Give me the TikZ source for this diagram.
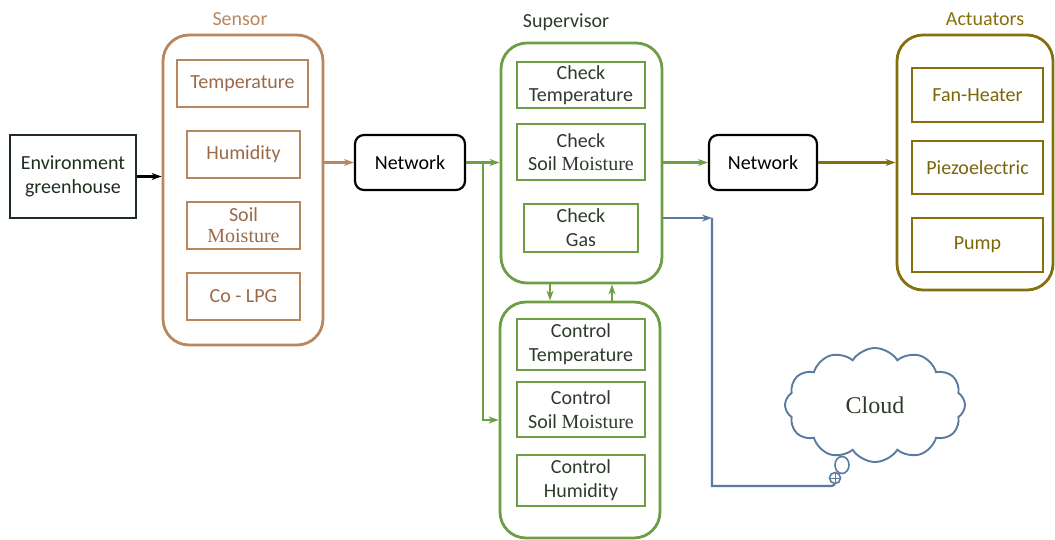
\documentclass[tikz,border=0pt]{standalone}
\usepackage{fontspec}
\setmainfont{Carlito}
\newfontfamily\serifm{Liberation Serif}
\usetikzlibrary{arrows.meta,calc,shapes.symbols,shapes.geometric}
\definecolor{sbrown}{HTML}{B8875E}
\definecolor{stext}{HTML}{9A6A48}
\definecolor{sgreen}{HTML}{6E9E44}
\definecolor{gtext}{HTML}{2E3B2C}
\definecolor{aolive}{HTML}{86700E}
\definecolor{atext}{HTML}{7A6508}
\definecolor{bblue}{HTML}{5A7AA0}
\definecolor{envc}{HTML}{1E2E1E}
\begin{document}
\begin{tikzpicture}[x=1pt,y=-1pt,
  font=\fontsize{20}{24}\selectfont,
  outer/.style={draw, line width=2.8pt, rounded corners=26pt},
  inner/.style={draw, line width=1.9pt, align=center, inner sep=1pt},
  netbox/.style={draw=black, line width=2.2pt, rounded corners=9pt, minimum width=110pt, minimum height=55pt},
  arr/.style={line width=2.2pt, -{Stealth[length=10pt,width=7pt]}},
  lbl/.style={inner sep=0pt}
  ]
\useasboundingbox (0,0) rectangle (1055,540);
% Environment
\node[draw=envc, line width=2.2pt, align=center, text=envc, minimum width=126pt, minimum height=83pt] (env) at (73,176.5) {Environment\\greenhouse};
% Sensor
\node[lbl, text=sbrown] (senlbl) at (240,19) {Sensor};
\node[outer, draw=sbrown, minimum width=160pt, minimum height=310pt] (sen) at (243,190) {};
\node[inner, draw=sbrown, text=stext, minimum width=131pt, minimum height=47pt] (stemp) at (242.5,83.5) {Temperature};
\node[inner, draw=sbrown, text=stext, minimum width=113pt, minimum height=47pt] (shum) at (243.5,154.5) {Humidity};
\node[inner, draw=sbrown, text=stext, minimum width=113pt, minimum height=47pt, font=\fontsize{20}{22}\selectfont] (ssoil) at (243.5,225.5) {Soil\\[-1pt]{\serifm Moisture}};
\node[inner, draw=sbrown, text=stext, minimum width=113pt, minimum height=47pt] (slpg) at (243.5,296.5) {Co - LPG};
% Network 1
\node[netbox] (net1) at (410,162.5) {Network};
% Supervisor
\node[lbl, text=gtext] (suplbl) at (566,22) {Supervisor};
\node[outer, draw=sgreen, minimum width=161pt, minimum height=240pt] (sup) at (581.5,163) {};
\node[inner, draw=sgreen, text=gtext, minimum width=128pt, minimum height=46pt, font=\fontsize{20}{22}\selectfont] (ctemp) at (581,85) {Check\\Temperature};
\node[inner, draw=sgreen, text=gtext, minimum width=128pt, minimum height=56pt, font=\fontsize{20}{23}\selectfont] (csoil) at (581,152) {Check\\Soil {\serifm Moisture}};
\node[inner, draw=sgreen, text=gtext, minimum width=114pt, minimum height=48pt, font=\fontsize{20}{24}\selectfont] (cgas) at (581,228) {Check\\Gas};
% Control
\node[outer, draw=sgreen, minimum width=160pt, minimum height=236pt] (ctl) at (580,420) {};
\node[inner, draw=sgreen, text=gtext, minimum width=128pt, minimum height=51pt, font=\fontsize{20}{24}\selectfont] (ktemp) at (581,344.5) {Control\\Temperature};
\node[inner, draw=sgreen, text=gtext, minimum width=128pt, minimum height=55pt, font=\fontsize{20}{24}\selectfont] (ksoil) at (581,409.5) {Control\\Soil {\serifm Moisture}};
\node[inner, draw=sgreen, text=gtext, minimum width=128pt, minimum height=51pt, font=\fontsize{20}{24}\selectfont] (khum) at (581,480.5) {Control\\Humidity};
% Network 2
\node[netbox, minimum width=108pt] (net2) at (763,162.5) {Network};
% Actuators
\node[lbl, text=aolive] (actlbl) at (985,19) {Actuators};
\node[outer, draw=aolive, minimum width=156pt, minimum height=255pt] (act) at (975,162.5) {};
\node[inner, draw=aolive, text=atext, minimum width=131pt, minimum height=54pt] (fan) at (977.5,95) {Fan-Heater};
\node[inner, draw=aolive, text=atext, minimum width=131pt, minimum height=53pt] (piezo) at (977.5,167.5) {Piezoelectric};
\node[inner, draw=aolive, text=atext, minimum width=131pt, minimum height=54pt] (pump) at (977.5,245) {Pump};
% Cloud
\node[cloud, cloud puffs=12, cloud puff arc=115, aspect=1.6, draw=bblue, line width=1.9pt, minimum width=180pt, minimum height=114pt, font=\serifm\fontsize{24}{26}\selectfont, text=gtext] (cloud) at (875,405) {Cloud};
\node[ellipse, draw=bblue, line width=1.6pt, minimum width=14pt, minimum height=17pt, inner sep=0pt] (tail1) at (842,465) {};
\node[circle, draw=bblue, line width=1.6pt, minimum size=11pt, inner sep=0pt] (tail2) at (835,478) {};
\draw[bblue, line width=1pt] (tail2.west) -- (tail2.east) (tail2.north) -- (tail2.south);
% Connectors
\draw[arr, black] (env.east) -- (env.east -| sen.west);
\draw[arr, sbrown] (net1.west -| sen.east) -- (net1.west);
\draw[arr, sgreen] (net1.east) -- (net1.east -| sup.west);
\coordinate (br) at (483,163);
\draw[arr, sgreen] (br) |- (ctl.west);
\draw[arr, sgreen] ($(sup.south)+(-31.5,0)$) -- ($(ctl.north)+(-30,0)$);
\draw[arr, sgreen] ($(ctl.north)+(32,0)$) -- ($(sup.south)+(30.5,0)$);
\draw[arr, sgreen] (sup.east |- net2.west) -- (net2.west);
\draw[arr, aolive] (net2.east) -- (net2.east -| act.west);
\coordinate (bc) at (712,218);
\coordinate (bend) at (832,486);
\draw[arr, bblue] (sup.east |- bc) -- (bc);
\draw[bblue, line width=2.2pt] (bc) |- (bend) -- (tail2.south);
\end{tikzpicture}
\end{document}
